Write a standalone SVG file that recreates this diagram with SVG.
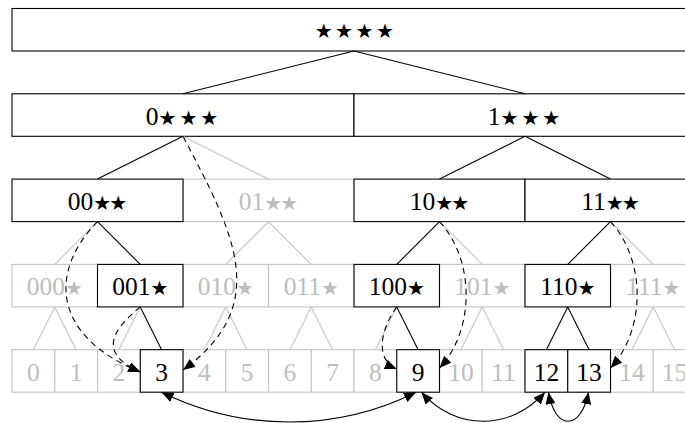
<svg xmlns="http://www.w3.org/2000/svg" width="685" height="423" viewBox="0 0 685 423">
<style>
.bk{fill:#fff;stroke:#000;stroke-width:1.1}
.gy{fill:#fff;stroke:#c4c4c4;stroke-width:1.1}
.t{font-family:"Liberation Serif","DejaVu Serif",serif;font-size:25.5px;text-anchor:middle;fill:#000}
.tg{font-family:"Liberation Serif","DejaVu Serif",serif;font-size:25.5px;text-anchor:middle;fill:#bdbdbd}
.s{font-family:"DejaVu Sans",sans-serif;font-size:20px}
.s2{letter-spacing:-2px}
.ls{letter-spacing:3px}
.lr{letter-spacing:2.5px}
.lb{stroke:#000;stroke-width:1.1;fill:none}
.lg{stroke:#c4c4c4;stroke-width:1.1;fill:none}
.d{stroke:#000;stroke-width:1.1;fill:none;stroke-dasharray:6 4.5}
.a{stroke:#000;stroke-width:1.1;fill:none}
</style>
<defs>
<marker id="ah" viewBox="0 0 12 10" refX="12" refY="5" markerWidth="12" markerHeight="10" markerUnits="userSpaceOnUse" orient="auto-start-reverse">
<path d="M0,0 L12,5 L0,10 Z" fill="#000"/>
</marker>
</defs>

<!-- gray nodes -->
<g id="n01"><rect class="gy" x="183" y="179.1" width="171" height="42.5"/><text class="tg" x="267.5" y="209.5">01<tspan class="s s2">★★</tspan></text></g>
<g id="n000"><rect class="gy" x="12" y="264.4" width="85.5" height="42.5"/><text class="tg" x="54.75" y="295">000<tspan class="s">★</tspan></text></g>
<g id="n010"><rect class="gy" x="183" y="264.4" width="85.5" height="42.5"/><text class="tg" x="225.75" y="295">010<tspan class="s">★</tspan></text></g>
<g id="n011"><rect class="gy" x="268.5" y="264.4" width="85.5" height="42.5"/><text class="tg" x="311.25" y="295">011<tspan class="s">★</tspan></text></g>
<g id="n101"><rect class="gy" x="439.5" y="264.4" width="85.5" height="42.5"/><text class="tg" x="482.25" y="295">101<tspan class="s">★</tspan></text></g>
<g id="n111"><rect class="gy" x="610.5" y="264.4" width="85.5" height="42.5"/><text class="tg" x="653.25" y="295">111<tspan class="s">★</tspan></text></g>
<g id="l0"><rect class="gy" x="12" y="349.7" width="42.75" height="42.5"/><text class="tg" x="33.4" y="380.5">0</text></g>
<g id="l1"><rect class="gy" x="54.75" y="349.7" width="42.75" height="42.5"/><text class="tg" x="76.1" y="380.5">1</text></g>
<g id="l2"><rect class="gy" x="97.5" y="349.7" width="42.75" height="42.5"/><text class="tg" x="118.9" y="380.5">2</text></g>
<g id="l4"><rect class="gy" x="183" y="349.7" width="42.75" height="42.5"/><text class="tg" x="204.4" y="380.5">4</text></g>
<g id="l5"><rect class="gy" x="225.75" y="349.7" width="42.75" height="42.5"/><text class="tg" x="247.1" y="380.5">5</text></g>
<g id="l6"><rect class="gy" x="268.5" y="349.7" width="42.75" height="42.5"/><text class="tg" x="289.9" y="380.5">6</text></g>
<g id="l7"><rect class="gy" x="311.25" y="349.7" width="42.75" height="42.5"/><text class="tg" x="332.6" y="380.5">7</text></g>
<g id="l8"><rect class="gy" x="354" y="349.7" width="42.75" height="42.5"/><text class="tg" x="375.4" y="380.5">8</text></g>
<g id="l10"><rect class="gy" x="439.5" y="349.7" width="42.75" height="42.5"/><text class="tg" x="460.9" y="380.5">10</text></g>
<g id="l11"><rect class="gy" x="482.25" y="349.7" width="42.75" height="42.5"/><text class="tg" x="503.6" y="380.5">11</text></g>
<g id="l14"><rect class="gy" x="610.5" y="349.7" width="42.75" height="42.5"/><text class="tg" x="631.9" y="380.5">14</text></g>
<g id="l15"><rect class="gy" x="653.25" y="349.7" width="42.75" height="42.5"/><text class="tg" x="674.6" y="380.5">15</text></g>

<!-- black nodes -->
<g id="root"><rect class="bk" x="12" y="8.5" width="684" height="42.5"/><text class="t" x="355.5" y="38"><tspan class="s lr">★★★★</tspan></text></g>
<g id="n0"><rect class="bk" x="12" y="93.8" width="342" height="42.5"/><text class="t" x="183.5" y="124.5">0<tspan class="s ls">★★★</tspan></text></g>
<g id="n1"><rect class="bk" x="354" y="93.8" width="342" height="42.5"/><text class="t" x="525.5" y="124.5">1<tspan class="s ls">★★★</tspan></text></g>
<g id="n00"><rect class="bk" x="12" y="179.1" width="171" height="42.5"/><text class="t" x="96.5" y="209.5">00<tspan class="s s2">★★</tspan></text></g>
<g id="n10"><rect class="bk" x="354" y="179.1" width="171" height="42.5"/><text class="t" x="438.5" y="209.5">10<tspan class="s s2">★★</tspan></text></g>
<g id="n11"><rect class="bk" x="525" y="179.1" width="171" height="42.5"/><text class="t" x="609.5" y="209.5">11<tspan class="s s2">★★</tspan></text></g>
<g id="n001"><rect class="bk" x="97.5" y="264.4" width="85.5" height="42.5"/><text class="t" x="140.25" y="295">001<tspan class="s">★</tspan></text></g>
<g id="n100"><rect class="bk" x="354" y="264.4" width="85.5" height="42.5"/><text class="t" x="396.75" y="295">100<tspan class="s">★</tspan></text></g>
<g id="n110"><rect class="bk" x="525" y="264.4" width="85.5" height="42.5"/><text class="t" x="567.75" y="295">110<tspan class="s">★</tspan></text></g>
<g id="l3"><rect class="bk" x="140.25" y="349.7" width="42.75" height="42.5"/><text class="t" x="161.6" y="380.5">3</text></g>
<g id="l9"><rect class="bk" x="396.75" y="349.7" width="42.75" height="42.5"/><text class="t" x="418.1" y="380.5">9</text></g>
<g id="l12"><rect class="bk" x="525" y="349.7" width="42.75" height="42.5"/><text class="t" x="546.4" y="380.5">12</text></g>
<g id="l13"><rect class="bk" x="567.75" y="349.7" width="42.75" height="42.5"/><text class="t" x="589.1" y="380.5">13</text></g>

<g id="connectors">
<!-- gray tree edges -->
<path class="lg" d="M183,136.3 L268.5,179.1"/>
<path class="lg" d="M97.5,221.6 L54.75,264.4 M268.5,221.6 L225.75,264.4 M268.5,221.6 L311.25,264.4 M439.5,221.6 L482.25,264.4 M610.5,221.6 L653.25,264.4"/>
<path class="lg" d="M54.75,306.9 L33.4,349.7 M54.75,306.9 L76.1,349.7 M140.25,306.9 L118.9,349.7 M225.75,306.9 L204.4,349.7 M225.75,306.9 L247.1,349.7 M311.25,306.9 L289.9,349.7 M311.25,306.9 L332.6,349.7 M396.75,306.9 L375.4,349.7 M482.25,306.9 L460.9,349.7 M482.25,306.9 L503.6,349.7 M653.25,306.9 L631.9,349.7 M653.25,306.9 L674.6,349.7"/>
<!-- black tree edges -->
<path class="lb" d="M354,51 L183,93.8 M354,51 L525,93.8"/>
<path class="lb" d="M183,136.3 L97.5,179.1 M525,136.3 L439.5,179.1 M525,136.3 L610.5,179.1"/>
<path class="lb" d="M97.5,221.6 L140.25,264.4 M439.5,221.6 L396.75,264.4 M610.5,221.6 L567.75,264.4"/>
<path class="lb" d="M140.25,306.9 L161.6,349.7 M396.75,306.9 L418.1,349.7 M567.75,306.9 L546.4,349.7 M567.75,306.9 L589.1,349.7"/>
<!-- dashed curves -->
<path class="d" marker-end="url(#ah)" d="M97.5,221.6 C50,270 50,335 140.25,372"/>
<path class="d" marker-end="url(#ah)" d="M140.25,306.9 C115,328 95,352 140.25,372"/>
<path class="d" marker-end="url(#ah)" d="M183,136.3 C235,235 272,305 183,370"/>
<path class="d" marker-end="url(#ah)" d="M439.5,221.6 C475,260 475,330 439.5,368"/>
<path class="d" marker-end="url(#ah)" d="M396.75,306.9 C380,330 375,360 396.75,369"/>
<path class="d" marker-end="url(#ah)" d="M610.5,221.6 C646,260 646,330 610.5,368"/>
<!-- solid double arrows -->
<path class="a" marker-start="url(#ah)" marker-end="url(#ah)" d="M161.6,392.2 C243,432 336,432 416,392.2"/>
<path class="a" marker-start="url(#ah)" marker-end="url(#ah)" d="M421.5,392.2 C455,431 511,431 545,392.2"/>
<path class="a" marker-start="url(#ah)" marker-end="url(#ah)" d="M548.5,392.2 C555,431 581,431 588.5,392.2"/>
</g>
</svg>
